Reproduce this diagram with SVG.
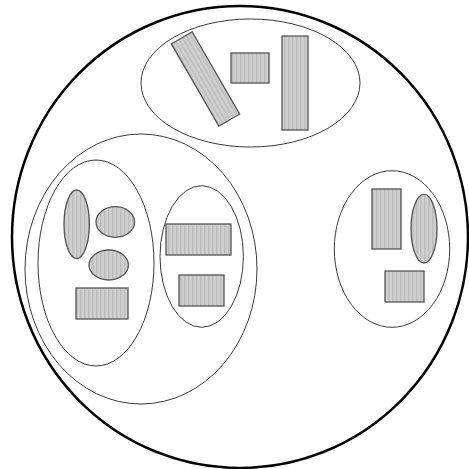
<svg xmlns="http://www.w3.org/2000/svg" width="469" height="469" viewBox="0 0 469 469">
<defs>
<pattern id="hatch" width="4" height="4" patternUnits="userSpaceOnUse">
<rect width="4" height="4" fill="#cfcfcf"/>
<rect x="0" width="1.5" height="4" fill="#bdbdbd"/>
</pattern>
<style>
.set{fill:none;stroke:#3a3a3a;stroke-width:1}
.outer{fill:#fff;stroke:#000;stroke-width:2.5}
.item{fill:url(#hatch);stroke:#555;stroke-width:1.3}
</style>
</defs>
<rect width="469" height="469" fill="#fff"/>
<g id="universe"><ellipse class="outer" cx="240" cy="237" rx="228" ry="231"/></g>
<g id="top-set">
<ellipse class="set" cx="250.5" cy="83" rx="109.5" ry="64"/>
<rect class="item" x="-12" y="-47.5" width="24" height="95" transform="translate(205.5 79) rotate(-30)"/>
<rect class="item" x="231" y="53" width="38" height="30"/>
<rect class="item" x="282" y="36" width="26" height="94"/>
</g>
<g id="left-set">
<ellipse class="set" cx="141" cy="269" rx="116" ry="135"/>
</g>
<g id="left-inner-set">
<ellipse class="set" cx="96" cy="263" rx="58" ry="103"/>
<ellipse class="item" cx="76.7" cy="224.3" rx="12.7" ry="34.3"/>
<ellipse class="item" cx="115.3" cy="222" rx="19.3" ry="15.3"/>
<ellipse class="item" cx="108.7" cy="265" rx="19.7" ry="15"/>
<rect class="item" x="76" y="288" width="52" height="31"/>
</g>
<g id="middle-inner-set">
<ellipse class="set" cx="201.7" cy="256.5" rx="41.7" ry="70.8"/>
<rect class="item" x="166" y="224" width="65" height="31"/>
<rect class="item" x="179" y="275" width="45" height="31"/>
</g>
<g id="right-set">
<ellipse class="set" cx="392" cy="249" rx="57.7" ry="78.3"/>
<rect class="item" x="372" y="189" width="29" height="60"/>
<ellipse class="item" cx="424" cy="228.7" rx="13" ry="34.3"/>
<rect class="item" x="385" y="271" width="39" height="31"/>
</g>
<g id="connectors"/>
</svg>
